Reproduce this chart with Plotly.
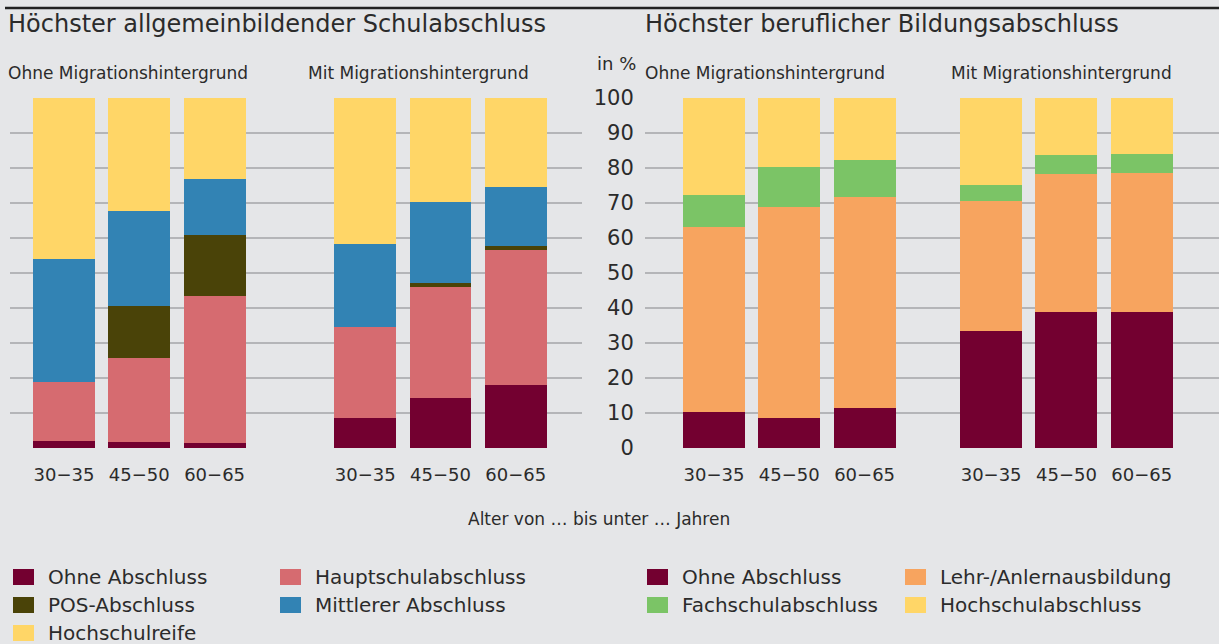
import plotly.graph_objects as go

W, H = 1219, 644

# ---------------- data ----------------
age_groups = ["30−35", "45−50", "60−65"]
group_labels = ["Ohne Migrationshintergrund", "Mit Migrationshintergrund"]

# Höchster allgemeinbildender Schulabschluss (Ohne MH: 3 ages, Mit MH: 3 ages), in %
school_ohne_abschluss = [2.0, 1.7, 1.3, 8.6, 14.3, 18.0]
school_hauptschul = [17.0, 24.0, 42.0, 26.0, 31.7, 38.6]
school_pos = [0.0, 15.0, 17.5, 0.0, 1.1, 1.1]
school_mittlerer = [35.0, 27.0, 16.2, 23.7, 23.2, 16.9]
school_hochschulreife = [46.0, 32.3, 23.0, 41.7, 29.7, 25.4]

# Höchster beruflicher Bildungsabschluss, in %
voc_ohne_abschluss = [10.3, 8.5, 11.4, 33.3, 39.0, 39.0]
voc_lehre = [52.9, 60.5, 60.4, 37.4, 39.4, 39.7]
voc_fachschul = [9.1, 11.4, 10.4, 4.5, 5.2, 5.2]
voc_hochschul = [27.7, 19.6, 17.8, 24.8, 16.4, 16.1]

y_ticks = [0, 10, 20, 30, 40, 50, 60, 70, 80, 90, 100]

# ---------------- style ----------------
BG = "#E5E6E8"
TXT = "#2B2B2B"
GRID = "#B4B5B8"
FONT = "DejaVu Sans"
C_DARK = "#730030"
C_PINK = "#D66B70"
C_OLIVE = "#4A4308"
C_BLUE = "#3283B4"
C_YELLOW = "#FFD667"
C_ORANGE = "#F7A45F"
C_GREEN = "#7BC466"

left_pos = [0, 1, 2, 4, 5, 6]
right_pos = [0, 1, 2, 3.68, 4.68, 5.68]
BARW = 0.823
ticktext = age_groups * 2


def px(x):
    return x / W


def py(y):
    return 1 - y / H


fig = go.Figure()

school_series = [
    ("Ohne Abschluss", school_ohne_abschluss, C_DARK),
    ("Hauptschulabschluss", school_hauptschul, C_PINK),
    ("POS-Abschluss", school_pos, C_OLIVE),
    ("Mittlerer Abschluss", school_mittlerer, C_BLUE),
    ("Hochschulreife", school_hochschulreife, C_YELLOW),
]
voc_series = [
    ("Ohne Abschluss", voc_ohne_abschluss, C_DARK),
    ("Lehr-/Anlernausbildung", voc_lehre, C_ORANGE),
    ("Fachschulabschluss", voc_fachschul, C_GREEN),
    ("Hochschulabschluss", voc_hochschul, C_YELLOW),
]

for name, vals, col in school_series:
    fig.add_trace(go.Bar(x=left_pos, y=vals, name=name, width=BARW,
                         marker=dict(color=col, line=dict(width=0)),
                         xaxis="x", yaxis="y", showlegend=False))
for name, vals, col in voc_series:
    fig.add_trace(go.Bar(x=right_pos, y=vals, name=name, width=BARW,
                         marker=dict(color=col, line=dict(width=0)),
                         xaxis="x2", yaxis="y2", showlegend=False))

y_top, y_bot = 98, 448
ydom = [py(y_bot), py(y_top)]

common_x = dict(showgrid=False, zeroline=False, showline=False, automargin=False,
                tickmode="array", ticktext=ticktext,
                ticks="outside", ticklen=10, tickcolor="rgba(0,0,0,0)",
                tickfont=dict(family=FONT, size=18, color=TXT), fixedrange=True)
common_y = dict(range=[0, 100], tickvals=y_ticks, showgrid=True, gridcolor=GRID,
                gridwidth=2, zeroline=False, showline=False, automargin=False,
                fixedrange=True)

fig.update_layout(
    width=W, height=H, autosize=False,
    paper_bgcolor=BG, plot_bgcolor="rgba(0,0,0,0)",
    margin=dict(l=0, r=0, t=0, b=0, pad=0),
    barmode="stack", bargap=0,
    font=dict(family=FONT, color=TXT),
    xaxis=dict(domain=[px(10), px(582)], range=[-0.717, 6.879], tickvals=left_pos,
               anchor="y", **common_x),
    yaxis=dict(domain=ydom, anchor="x", showticklabels=False, **common_y),
    xaxis2=dict(domain=[px(645), 1.0], range=[-0.916, 6.706], tickvals=right_pos,
                anchor="y2", **common_x),
    yaxis2=dict(domain=ydom, anchor="x2", showticklabels=True,
                ticks="outside", ticklen=6, tickcolor="rgba(0,0,0,0)",
                tickfont=dict(family=FONT, size=21, color=TXT), **common_y),
)

shapes = []
annotations = []

# top rule
shapes.append(dict(type="line", xref="paper", yref="paper",
                   x0=px(5), x1=1.0, y0=py(8), y1=py(8),
                   line=dict(color="#222222", width=2.5)))


def text(x, y, s, size, xanchor="left", yanchor="middle"):
    annotations.append(dict(x=px(x), y=py(y), xref="paper", yref="paper",
                            text=s, showarrow=False, xanchor=xanchor, yanchor=yanchor,
                            font=dict(family=FONT, size=size, color=TXT)))


text(6, 24, "Höchster allgemeinbildender Schulabschluss", 24)
text(643, 24, "Höchster beruflicher Bildungsabschluss", 24)
text(6, 73, group_labels[0], 17)
text(306, 73, group_labels[1], 17)
text(643, 73, group_labels[0], 17)
text(949, 73, group_labels[1], 17)
text(638, 64, "in %", 18, xanchor="right")
text(599, 519, "Alter von … bis unter … Jahren", 17, xanchor="center")

# manual legends
leg_left = [
    (13, 577, "Ohne Abschluss", C_DARK),
    (280, 577, "Hauptschulabschluss", C_PINK),
    (13, 605, "POS-Abschluss", C_OLIVE),
    (280, 605, "Mittlerer Abschluss", C_BLUE),
    (13, 633, "Hochschulreife", C_YELLOW),
]
leg_right = [
    (647, 577, "Ohne Abschluss", C_DARK),
    (905, 577, "Lehr-/Anlernausbildung", C_ORANGE),
    (647, 605, "Fachschulabschluss", C_GREEN),
    (905, 605, "Hochschulabschluss", C_YELLOW),
]
for x, y, label, col in leg_left + leg_right:
    shapes.append(dict(type="rect", xref="paper", yref="paper",
                       x0=px(x), x1=px(x + 21), y0=py(y - 8), y1=py(y + 8),
                       fillcolor=col, line=dict(width=0)))
    text(x + 33, y, label, 20)

fig.update_layout(shapes=shapes, annotations=annotations)

fig.write_html(
    "out.html",
    config={"displayModeBar": False, "staticPlot": True},
    post_script="document.body.style.margin='0';document.body.style.overflow='hidden';"
                "document.documentElement.style.background='" + BG + "';",
)
